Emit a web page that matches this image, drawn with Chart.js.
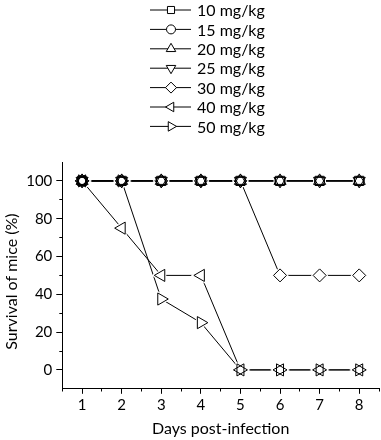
<!DOCTYPE html>
<html>
<head>
<meta charset="utf-8">
<script src="https://cdn.jsdelivr.net/npm/chart.js@4"></script>
<style>
  html, body { margin: 0; padding: 0; background: #fff; }
</style>
</head>
<body>
<canvas id="survival" width="381" height="440"></canvas>
<script>
const days = [1, 2, 3, 4, 5, 6, 7, 8]
const doseLabels = ['10 mg/kg', '15 mg/kg', '20 mg/kg', '25 mg/kg', '30 mg/kg', '40 mg/kg', '50 mg/kg']
const dose10 = [100, 100, 100, 100, 100, 100, 100, 100]
const dose15 = [100, 100, 100, 100, 100, 100, 100, 100]
const dose20 = [100, 100, 100, 100, 100, 100, 100, 100]
const dose25 = [100, 100, 100, 100, 100, 100, 100, 100]
const dose30 = [100, 100, 100, 100, 100, 50, 50, 50]
const dose40 = [100, 75, 50, 50, 0, 0, 0, 0]
const dose50 = [100, 100, 37.5, 25, 0, 0, 0, 0]
const xTickLabels = [1, 2, 3, 4, 5, 6, 7, 8]
const yTickLabels = [0, 20, 40, 60, 80, 100]

const series = [dose10, dose15, dose20, dose25, dose30, dose40, dose50]
const FONT = "Lato, 'DejaVu Sans', sans-serif"

// marker per dose: square, circle, up, down, diamond, left, right
const markers = [
  { style: 'rect', rotation: 0, r: 6.5, lr: 5 },
  { style: 'circle', rotation: 0, r: 5, lr: 4.5 },
  { style: 'triangle', rotation: 0, r: 7, lr: 5.5 },
  { style: 'triangle', rotation: 180, r: 7, lr: 5.5 },
  { style: 'rectRot', rotation: 0, r: 6.5, lr: 5.5 },
  { style: 'triangle', rotation: 270, r: 7, lr: 5.5 },
  { style: 'triangle', rotation: 90, r: 7, lr: 5.5 }
]

const datasets = []
series.forEach((values, i) => {
  const pts = days.map((d, k) => ({ x: d, y: values[k] }))
  const m = markers[i]
  // connecting line underneath everything
  datasets.push({
    label: doseLabels[i], data: pts, order: 3,
    borderColor: '#000', borderWidth: 1, pointRadius: 0, fill: false
  })
  // white halo that leaves a small gap between line and marker
  datasets.push({
    label: doseLabels[i], data: pts, order: 2, showLine: false,
    pointStyle: m.style, rotation: m.rotation, pointRadius: m.r,
    pointBackgroundColor: '#fff', pointBorderColor: '#fff', pointBorderWidth: 3
  })
  // open marker outline
  datasets.push({
    label: doseLabels[i], data: pts, order: 1, showLine: false,
    pointStyle: m.style, rotation: m.rotation, pointRadius: m.r,
    pointBackgroundColor: 'rgba(0,0,0,0)', pointBorderColor: '#000', pointBorderWidth: 1
  })
})

const legendRows = {
  id: 'legendRows',
  afterDraw(chart) {
    const ctx = chart.ctx
    doseLabels.forEach((label, i) => {
      const y = 10 + i * 19.4
      const m = markers[i]
      ctx.save()
      ctx.strokeStyle = '#000'
      ctx.lineWidth = 1
      ctx.beginPath()
      ctx.moveTo(150, y)
      ctx.lineTo(191, y)
      ctx.stroke()
      ctx.fillStyle = '#fff'
      Chart.helpers.drawPoint(ctx, { pointStyle: m.style, rotation: m.rotation, radius: m.lr, borderWidth: 1 }, 171, y)
      ctx.fillStyle = '#000'
      ctx.font = '16px ' + FONT
      ctx.textBaseline = 'middle'
      ctx.fillText(label, 197, y + 1)
      ctx.restore()
    })
  }
}

new Chart(document.querySelector('#survival'), {
  type: 'line',
  data: { datasets: datasets },
  options: {
    responsive: false,
    animation: false,
    layout: { autoPadding: false, padding: { top: 162, right: 1, left: 0, bottom: 0 } },
    plugins: { legend: false, tooltip: { enabled: false } },
    scales: {
      x: {
        type: 'linear',
        min: 0.5,
        max: 8.5,
        ticks: {
          stepSize: 0.5,
          autoSkip: false,
          maxRotation: 0,
          padding: 2,
          color: '#000',
          font: { family: FONT, size: 15 },
          callback: v => xTickLabels.includes(v) ? v : ''
        },
        grid: {
          drawOnChartArea: false,
          tickLength: 5,
          tickColor: '#000',
          tickBorderDash: c => (c.tick && Number.isInteger(c.tick.value)) ? [] : [2.5, 10]
        },
        border: { color: '#000', width: 1 },
        title: {
          display: true,
          text: 'Days post-infection',
          color: '#000',
          font: { family: FONT, size: 16 },
          padding: { top: 3, bottom: 2 }
        }
      },
      y: {
        min: -10,
        max: 110,
        ticks: {
          stepSize: 10,
          autoSkip: false,
          padding: 4,
          color: '#000',
          font: { family: FONT, size: 15 },
          callback: v => yTickLabels.includes(v) ? v : ''
        },
        grid: {
          drawOnChartArea: false,
          tickLength: 6,
          tickColor: c => (c.tick && (c.tick.value < 0 || c.tick.value > 100)) ? 'rgba(0,0,0,0)' : '#000',
          tickBorderDash: c => (c.tick && yTickLabels.includes(c.tick.value)) ? [] : [3, 3],
          tickBorderDashOffset: c => (c.tick && yTickLabels.includes(c.tick.value)) ? 0 : 3
        },
        border: { color: '#000', width: 1 },
        title: {
          display: true,
          text: 'Survival of mice (%)   ',
          color: '#000',
          font: { family: FONT, size: 16 },
          padding: { top: 2, bottom: 1 }
        }
      }
    }
  },
  plugins: [legendRows]
})
</script>
</body>
</html>
